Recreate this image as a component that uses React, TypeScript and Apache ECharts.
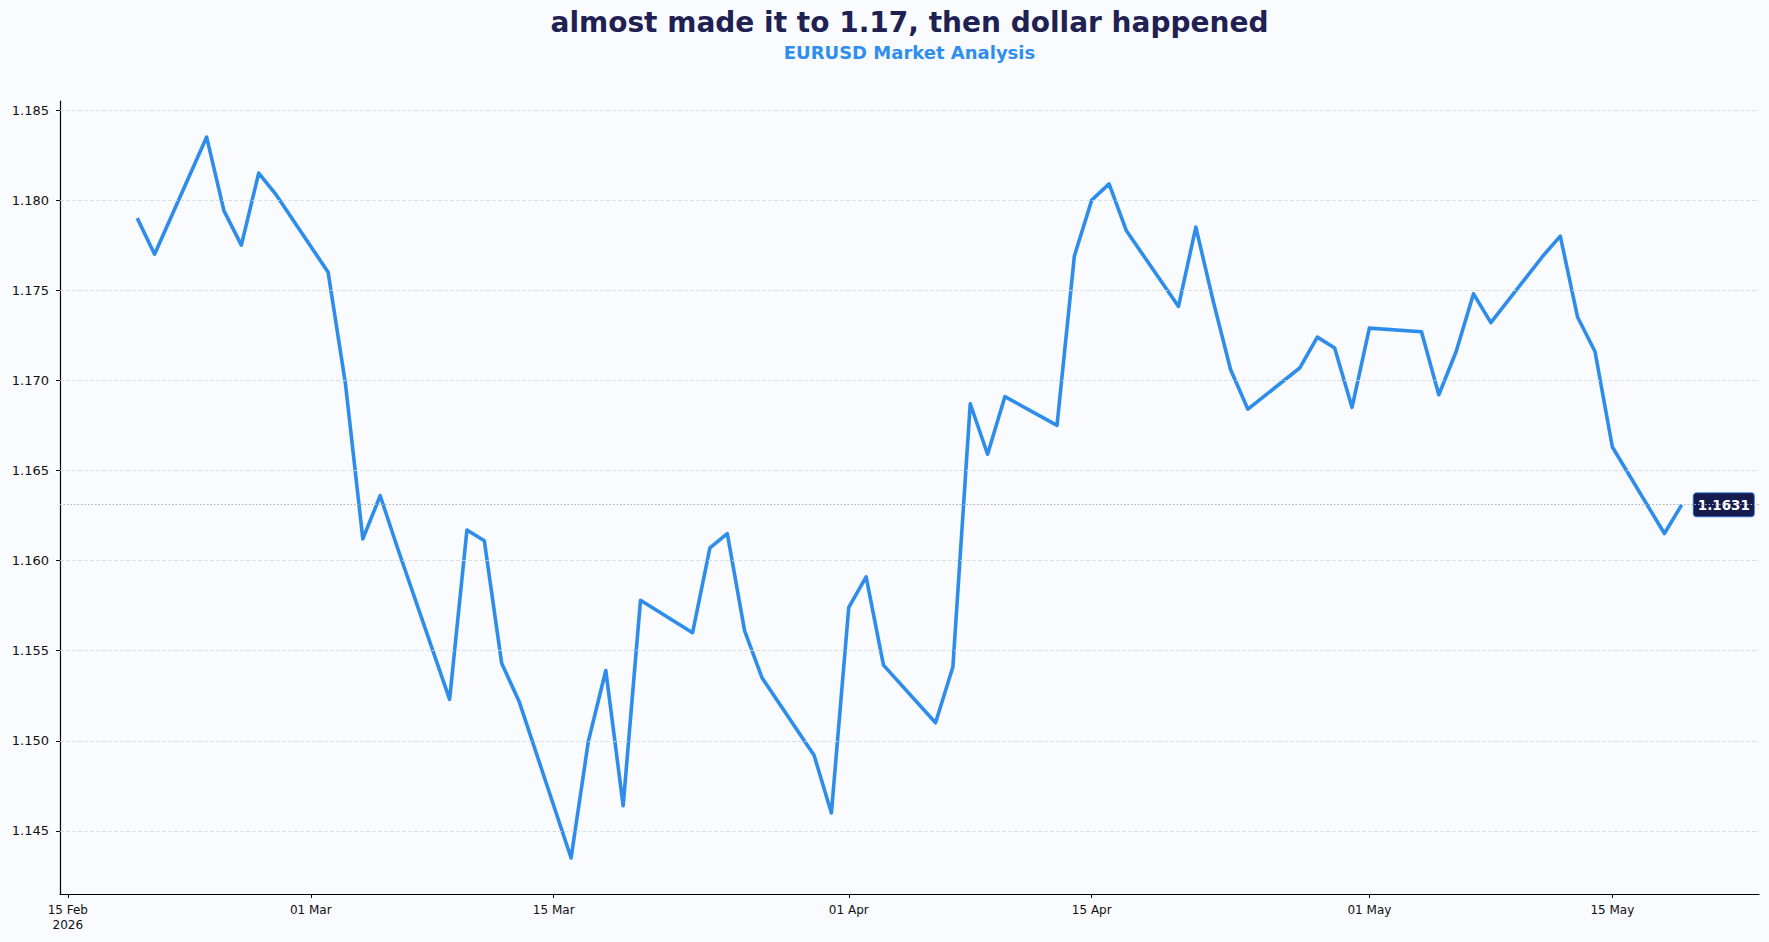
import { useEffect, useRef } from "react";
import * as echarts from "echarts";

// EURUSD daily closes (business days)
const dates = [
  "2026-02-19", "2026-02-20", "2026-02-23", "2026-02-24", "2026-02-25", "2026-02-26", "2026-02-27",
  "2026-03-02", "2026-03-03", "2026-03-04", "2026-03-05", "2026-03-06",
  "2026-03-09", "2026-03-10", "2026-03-11", "2026-03-12", "2026-03-13",
  "2026-03-16", "2026-03-17", "2026-03-18", "2026-03-19", "2026-03-20",
  "2026-03-23", "2026-03-24", "2026-03-25", "2026-03-26", "2026-03-27",
  "2026-03-30", "2026-03-31", "2026-04-01", "2026-04-02", "2026-04-03",
  "2026-04-06", "2026-04-07", "2026-04-08", "2026-04-09", "2026-04-10",
  "2026-04-13", "2026-04-14", "2026-04-15", "2026-04-16", "2026-04-17",
  "2026-04-20", "2026-04-21", "2026-04-22", "2026-04-23", "2026-04-24",
  "2026-04-27", "2026-04-28", "2026-04-29", "2026-04-30", "2026-05-01",
  "2026-05-04", "2026-05-05", "2026-05-06", "2026-05-07", "2026-05-08",
  "2026-05-11", "2026-05-12", "2026-05-13", "2026-05-14", "2026-05-15",
  "2026-05-18", "2026-05-19",
];

const closes = [
  1.179, 1.177, 1.1835, 1.1794, 1.1775, 1.1815, 1.1803,
  1.176, 1.1698, 1.1612, 1.1636, 1.1607,
  1.1523, 1.1617, 1.1611, 1.1543, 1.1522,
  1.1435, 1.15, 1.1539, 1.1464, 1.1578,
  1.156, 1.1607, 1.1615, 1.1561, 1.1535,
  1.1492, 1.146, 1.1574, 1.1591, 1.1542,
  1.151, 1.1541, 1.1687, 1.1659, 1.1691,
  1.1675, 1.1769, 1.18, 1.1809, 1.1783,
  1.1741, 1.1785, 1.1744, 1.1706, 1.1684,
  1.1707, 1.1724, 1.1718, 1.1685, 1.1729,
  1.1727, 1.1692, 1.1716, 1.1748, 1.1732,
  1.1769, 1.178, 1.1735, 1.1716, 1.1663,
  1.1615, 1.1631,
];

const yTicks = [1.145, 1.15, 1.155, 1.16, 1.165, 1.17, 1.175, 1.18, 1.185];
const xTicks = ["2026-02-15", "2026-03-01", "2026-03-15", "2026-04-01", "2026-04-15", "2026-05-01", "2026-05-15"];
const MONTHS = ["Jan", "Feb", "Mar", "Apr", "May", "Jun", "Jul", "Aug", "Sep", "Oct", "Nov", "Dec"];

const TITLE = "almost made it to 1.17, then dollar happened";
const SUBTITLE = "EURUSD Market Analysis";

const W = 1769;
const H = 942;
const FONT = "DejaVu Sans";

const ts = (d: string) => Date.parse(d + "T00:00:00Z");

export default function App() {
  const ref = useRef<HTMLDivElement | null>(null);

  useEffect(() => {
    if (!ref.current) return;
    document.body.style.margin = "0";
    const chart = echarts.init(ref.current, null, { renderer: "svg" });

    const data = dates.map((d, i) => [ts(d), closes[i]]);
    const first = ts(dates[0]);
    const last = ts(dates[dates.length - 1]);
    const xPad = (last - first) * 0.05;
    const lo = Math.min(...closes);
    const hi = Math.max(...closes);
    const yPad = (hi - lo) * 0.05;
    const lastVal = closes[closes.length - 1];
    const xTickTs = xTicks.map(ts);

    const fmtDate = (v: number) => {
      const d = new Date(v);
      const day = String(d.getUTCDate()).padStart(2, "0");
      const s = `${day} ${MONTHS[d.getUTCMonth()]}`;
      return v === xTickTs[0] ? `${s}\n${d.getUTCFullYear()}` : s;
    };

    chart.setOption({
      animation: false,
      backgroundColor: "#f9fbfe",
      grid: { left: 60, right: 10, top: 101, bottom: 48, containLabel: false },
      graphic: [
        {
          type: "text",
          x: 909.5,
          y: 22,
          style: {
            text: TITLE,
            fill: "#1f2152",
            font: `bold 28px "${FONT}"`,
            textAlign: "center",
            textVerticalAlign: "middle",
          },
        },
        {
          type: "text",
          x: 909.5,
          y: 52.5,
          style: {
            text: SUBTITLE,
            fill: "#2e8ef0",
            font: `bold 18px "${FONT}"`,
            textAlign: "center",
            textVerticalAlign: "middle",
          },
        },
      ],
      xAxis: {
        type: "value",
        min: first - xPad,
        max: last + xPad,
        splitLine: { show: false },
        axisLine: { show: true, lineStyle: { color: "#000", width: 1.2 } },
        axisTick: {
          show: true,
          length: 4,
          lineStyle: { color: "#000", width: 1 },
          customValues: xTickTs,
        },
        axisLabel: {
          customValues: xTickTs,
          formatter: (v: number) => fmtDate(v),
          color: "#111",
          fontFamily: FONT,
          fontSize: 12,
          lineHeight: 15,
          margin: 8,
          showMinLabel: true,
          showMaxLabel: true,
        },
      },
      yAxis: {
        type: "value",
        min: lo - yPad,
        max: hi + yPad,
        splitLine: { show: false },
        axisLine: { show: true, lineStyle: { color: "#000", width: 1.2 } },
        axisTick: {
          show: true,
          length: 4,
          lineStyle: { color: "#000", width: 1 },
          customValues: yTicks,
        },
        axisLabel: {
          customValues: yTicks,
          formatter: (v: number) => v.toFixed(3),
          color: "#111",
          fontFamily: FONT,
          fontSize: 13,
          margin: 11,
        },
      },
      series: [
        {
          type: "line",
          data,
          showSymbol: false,
          symbol: "none",
          z: 3,
          lineStyle: { color: "#2e8deb", width: 3.6, join: "round" },
          itemStyle: { color: "#2e8deb" },
          endLabel: {
            show: true,
            formatter: () => lastVal.toFixed(4),
            distance: 12,
            color: "#fff",
            fontFamily: FONT,
            fontWeight: "bold",
            fontSize: 13.5,
            lineHeight: 15,
            backgroundColor: "#161b4d",
            borderColor: "#3a78dc",
            borderWidth: 1,
            borderRadius: 3,
            padding: [4, 4],
          },
          markLine: {
            silent: true,
            symbol: "none",
            precision: 4,
            label: { show: false },
            animation: false,
            data: [
              ...yTicks.map((v) => ({
                yAxis: v,
                lineStyle: { color: "#d3d8df", width: 0.8, type: [4, 2] },
              })),
              {
                yAxis: lastVal,
                lineStyle: { color: "#a9b1bd", width: 1, type: [1.5, 2] },
              },
            ],
          },
        },
      ],
    });

    return () => chart.dispose();
  }, []);

  return (
    <div
      ref={ref}
      style={{ position: "fixed", left: 0, top: 0, width: W, height: H }}
    />
  );
}
